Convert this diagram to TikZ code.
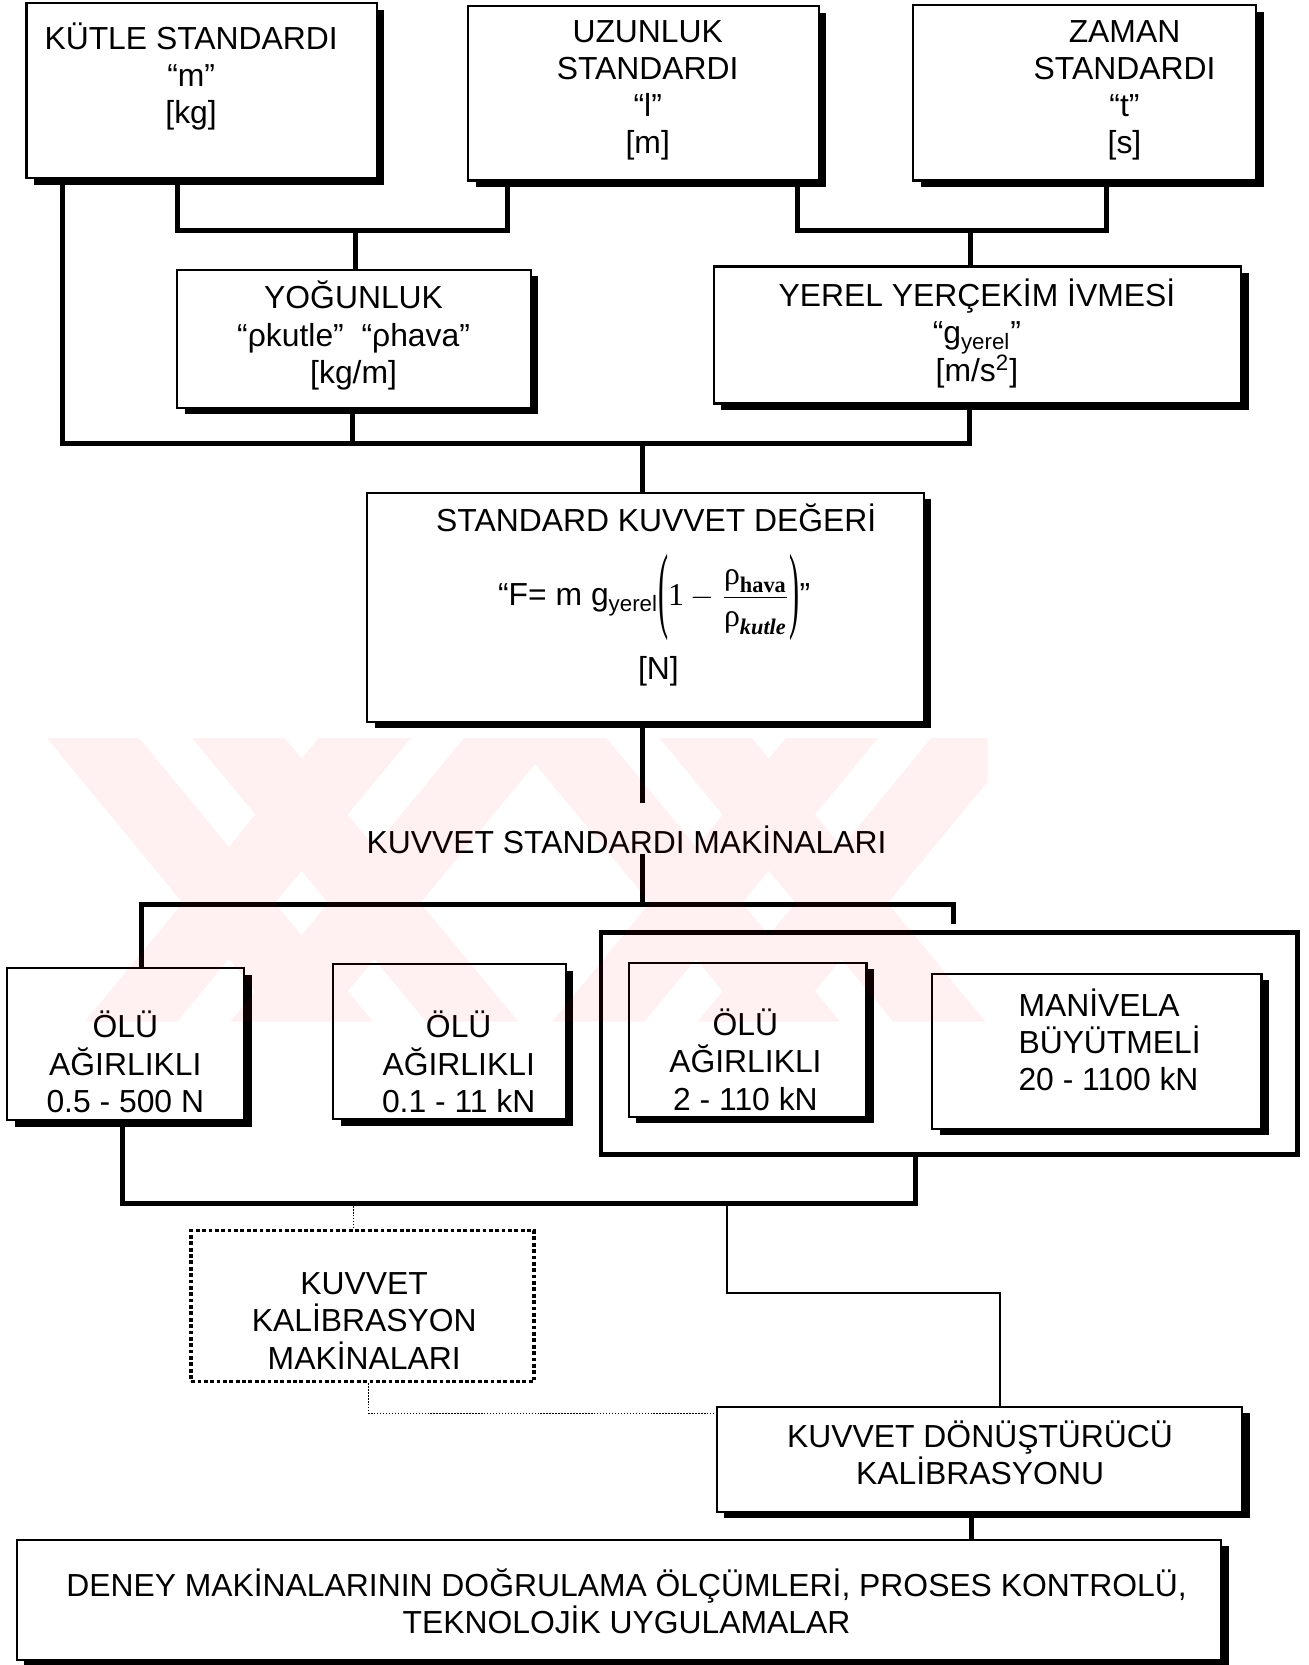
\documentclass[tikz,border=0pt]{standalone}
\usepackage{amsmath}
\usepackage{fontspec}
\setmainfont{Liberation Sans}
\newfontfamily\tms{Liberation Serif}
\usetikzlibrary{shadows,fit}
\newcommand{\mybigpar}[1]{\vcenter{\hbox{\scalebox{0.95}[3.0]{\tms #1}}}}
\begin{document}
\begin{tikzpicture}[x=0.5pt,y=-0.5pt,
  box/.style={draw=black, line width=1pt, fill=white, inner sep=0pt,
    general shadow={fill=black, shadow xshift=3.5pt, shadow yshift=-3pt}},
  frm/.style={draw=black, line width=2.3pt, inner sep=0pt},
  dotbox/.style={draw=black, line width=1.6pt, dash pattern=on 1.8pt off 1.2pt, fill=white, inner sep=0pt},
  txt/.style={align=center, inner sep=0pt, font=\fontsize{15}{17.5}\selectfont},
  conn/.style={line width=2.3pt},
  thinln/.style={line width=0.9pt},
  dots/.style={line width=0.8pt, dash pattern=on 0.7pt off 0.7pt},
]
\fill[white] (0,0) rectangle (1232,1568);
\useasboundingbox (0,0) rectangle (1232,1568);

% boxes
\node[box, fit={(25,3) (355,168)}] (k) {};
\node[box, fit={(441,6) (771,170)}] (u) {};
\node[box, fit={(860,5) (1183,170)}] (z) {};
\node[box, fit={(167,254) (500,384)}] (y) {};
\node[box, fit={(672,251) (1169,380)}] (g) {};
\node[box, fit={(346,464) (870,680)}] (s) {};
\node[box, fit={(7,912) (230,1055)}] (o1) {};
\node[box, fit={(314,908) (533,1054)}] (o2) {};
\node[frm, fit={(566,878) (1222,1087)}] (fr) {};
\node[box, fit={(592,907) (816,1052)}] (o3) {};
\node[box, fit={(878,917) (1188,1063)}] (mv) {};
\node[dotbox, fit={(180,1159) (503,1301)}] (kk) {};
\node[box, fit={(675,1325) (1170,1424)}] (d) {};
\node[box, fit={(16,1450) (1150,1563)}] (b) {};

% texts
\node[txt] (tk) at (180,72) {KÜTLE STANDARDI\\“m”\\{[kg]}};
\node[txt] (tu) at (610,85) {UZUNLUK\\STANDARDI\\“l”\\{[m]}};
\node[txt] (tz) at (1059,85) {ZAMAN\\STANDARDI\\“t”\\{[s]}};
\node[txt] (ty) at (333,316) {YOĞUNLUK\\“ρkutle”\ \ “ρhava”\\{[kg/m]}};
\node[txt] (tg) at (920,314) {YEREL YERÇEKİM İVMESİ\\“g\textsubscript{yerel}”\\{[m/s\textsuperscript{2}]}};
\node[txt] (ts1) at (618,488) {STANDARD KUVVET DEĞERİ};
\node[txt] (ts2) at (616,563) {“F= m g\textsubscript{yerel}$\mybigpar{(}\text{\tms 1}-\dfrac{\text{\tms ρ}_{\text{\tms\bfseries hava}}}{\text{\tms ρ}_{\text{\tms\bfseries\itshape kutle}}}\mybigpar{)}$"};
\node[txt] (ts3) at (620,632) {[N]};
\node[txt] (ksm) at (590,791) {KUVVET STANDARDI MAKİNALARI};
\node[txt] (to1) at (118,1000) {ÖLÜ\\AĞIRLIKLI\\0.5 - 500 N};
\node[txt] (to2) at (432,1000) {ÖLÜ\\AĞIRLIKLI\\0.1 - 11 kN};
\node[txt] (to3) at (702,998) {ÖLÜ\\AĞIRLIKLI\\2 - 110 kN};
\node[txt, align=left] (tmv) at (1045,979) {MANİVELA\\BÜYÜTMELİ\\20 - 1100 kN};
\node[txt] (tkk) at (343,1244) {KUVVET\\KALİBRASYON\\MAKİNALARI};
\node[txt] (td) at (923,1368) {KUVVET DÖNÜŞTÜRÜCÜ\\KALİBRASYONU};
\node[txt] (tb) at (590,1508) {DENEY MAKİNALARININ DOĞRULAMA ÖLÇÜMLERİ, PROSES KONTROLÜ,\\TEKNOLOJİK UYGULAMALAR};

% connectors
\coordinate (j1) at (335,217);
\draw[conn] (k.south -| 167,0) -- (167,217) -- (478,217) -- (u.south -| 478,0);
\draw[conn] (j1) -- (y.north -| j1);
\coordinate (j2) at (914,217);
\draw[conn] (u.south -| 751,0) -- (751,217) -- (1042,217) -- (z.south -| 1042,0);
\draw[conn] (j2) -- (g.north -| j2);
\coordinate (j3) at (605,418);
\draw[conn] (k.south -| 59,0) -- (59,418) -- (913,418) -- (g.south -| 913,0);
\draw[conn] (y.south -| 332,0) -- (332,418);
\draw[conn] (j3) -- (s.north -| j3);
\coordinate (c1) at (605,756);
\draw[conn] (s.south -| 605,0) -- (c1);
\coordinate (j4) at (605,852);
\draw[conn] (ksm.base -| 605,0) -- (j4);
\coordinate (stub) at (898,870);
\draw[conn] (o1.north -| 133,0) -- (133,852) -- (898,852) -- (stub);
\coordinate (j5) at (333,1133);
\coordinate (j6) at (685,1133);
\draw[conn] (o1.south -| 115,0) -- (115,1133) -- (862,1133) -- (fr.south -| 862,0);
\draw[dots] (j5) -- (kk.north -| j5);
\draw[dots] (kk.south -| 347,0) -- (347,1331) -- (d.west |- 0,1331);
\draw[thinln] (j6) -- (685,1218) -- (942,1218) -- (d.north -| 942,0);
\draw[conn] (d.south -| 915,0) -- (b.north -| 915,0);

% watermark (faint diagonal bands)
\begin{scope}
  \clip (40,695) rectangle (930,962);
  \fill[red, opacity=0.055]
    \foreach \a in {44,181,484,621} {
      (\a,695) -- ({\a+87},695) -- ({\a+307},962) -- ({\a+220},962) -- cycle }
    \foreach \a in {300,437,740,877} {
      (\a,695) -- ({\a+87},695) -- ({\a-133},962) -- ({\a-220},962) -- cycle };
\end{scope}
\end{tikzpicture}
\end{document}
